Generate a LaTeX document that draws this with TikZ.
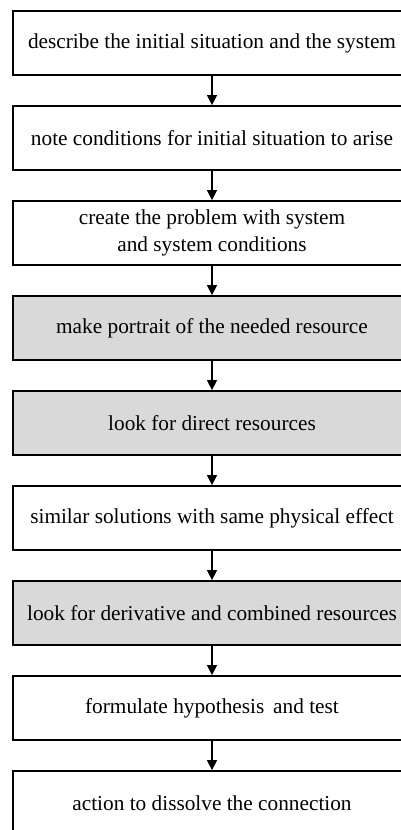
\documentclass[tikz,border=0pt]{standalone}
\usepackage{fontspec}
\setmainfont{Liberation Serif}
\usetikzlibrary{arrows.meta}
\definecolor{boxgray}{HTML}{D9D9D9}
\tikzset{
  stepbox/.style={draw=black, line width=1.8pt, minimum width=398pt, minimum height=64pt,
    inner sep=0pt, align=center, font=\fontsize{21.3}{27.5}\selectfont},
  graybox/.style={stepbox, fill=boxgray},
  whitebox/.style={stepbox, fill=white},
  flow/.style={line width=1.5pt, -{Triangle[length=10pt,width=10pt]}}
}
\begin{document}
\begin{tikzpicture}[x=1pt,y=-1pt]
\useasboundingbox (0,0) rectangle (401,830);
\clip (0,0) rectangle (401,830);
\node[whitebox] (b1) at (212,43) {describe the initial situation and the system};
\node[whitebox] (b2) at (212,138) {note conditions for initial situation to arise};
\node[whitebox] (b3) at (212,233) {create the problem with system\\and system conditions};
\node[graybox] (b4) at (212,328) {make portrait of the needed resource};
\node[graybox] (b5) at (212,423) {look for direct resources};
\node[whitebox] (b6) at (212,518) {similar solutions with same physical effect};
\node[graybox] (b7) at (212,613) {look for derivative and combined resources};
\node[whitebox] (b8) at (212,708) {formulate hypothesis\, and test};
\node[whitebox] (b9) at (212,803) {action to dissolve the connection};
\foreach \a/\b in {b1/b2,b2/b3,b3/b4,b4/b5,b5/b6,b6/b7,b7/b8,b8/b9}
  \draw[flow] (\a.south) -- (\b.north);
\end{tikzpicture}
\end{document}
